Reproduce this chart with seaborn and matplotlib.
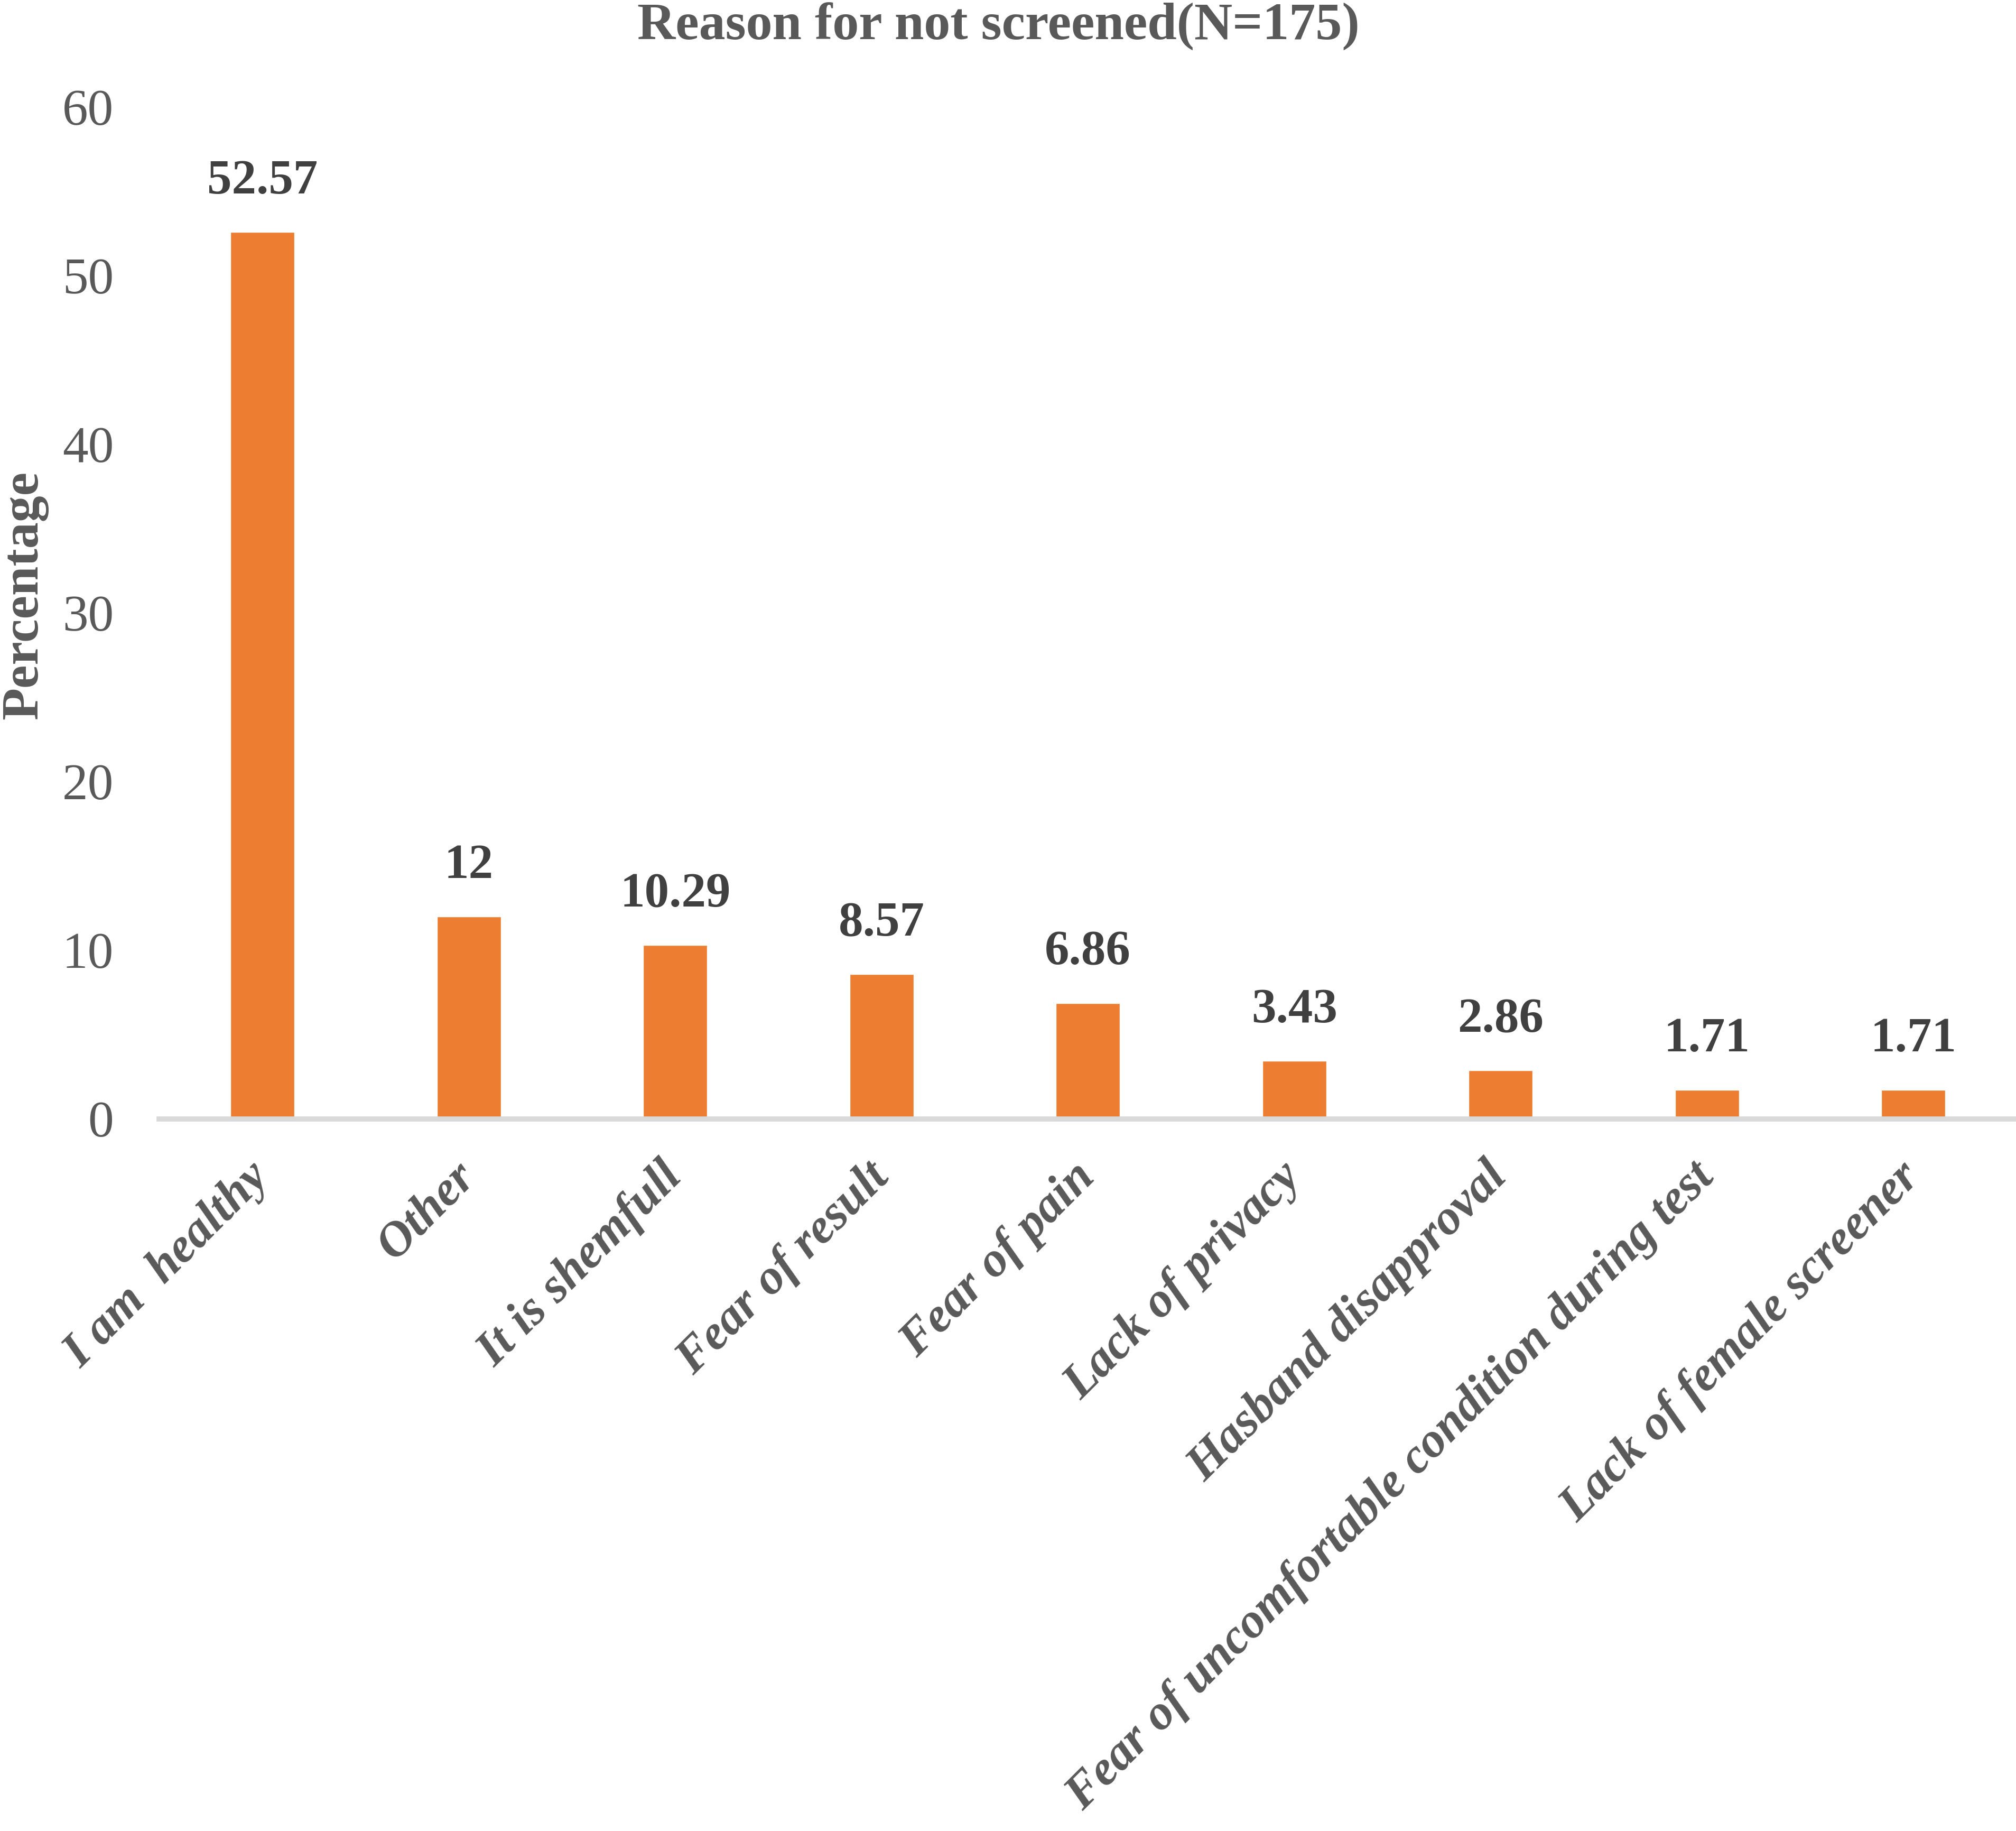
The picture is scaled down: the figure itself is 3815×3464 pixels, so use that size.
import matplotlib
matplotlib.use("Agg")
import matplotlib.pyplot as plt
import seaborn as sns
import pandas as pd

# data
reasons = ["I am  healthy", "Other", "It is shemfull", "Fear of result", "Fear of pain",
           "Lack of privacy", "Hasband disapproval",
           "Fear of uncomfortable condition during test", "Lack of female screener"]
percentages = [52.57, 12, 10.29, 8.57, 6.86, 3.43, 2.86, 1.71, 1.71]
y_ticks = [0, 10, 20, 30, 40, 50, 60]

ORANGE = "#ED7D31"
GRAY = "#595959"
DARK = "#404040"

sns.set_style("white")
plt.rcParams['font.family'] = ['Liberation Serif', 'DejaVu Serif']

df = pd.DataFrame({'reason': reasons, 'pct': percentages})

fig = plt.figure(figsize=(38.16, 34.64), dpi=100)
ax = fig.add_axes([0.079, 0.389, 0.921, 0.5527])

sns.barplot(data=df, x='reason', y='pct', color=ORANGE, width=0.31,
            saturation=1, ax=ax)

ax.set_xlim(-0.5, len(reasons) - 0.5)
ax.set_ylim(0, 60)
ax.set_yticks(y_ticks)
ax.set_xlabel("")
ax.set_ylabel("")

for s in ['top', 'right', 'left']:
    ax.spines[s].set_visible(False)
ax.spines['bottom'].set_color("#D9D9D9")
ax.spines['bottom'].set_linewidth(7)

ax.tick_params(axis='y', length=0, pad=62, labelsize=70, labelcolor=GRAY)
ax.tick_params(axis='x', length=0, pad=70, labelsize=67, labelcolor=GRAY)

for lab in ax.get_xticklabels():
    lab.set_rotation(45)
    lab.set_ha('right')
    lab.set_va('center')
    lab.set_rotation_mode('anchor')
    lab.set_fontweight('bold')
    lab.set_fontstyle('italic')

for i, v in enumerate(percentages):
    ax.annotate(f"{v:g}", (i, v), xytext=(0, 38), textcoords='offset points',
                ha='center', va='bottom', fontsize=67, fontweight='bold',
                color=DARK)

fig.text(0.495, 0.9985, "Reason for not screened(N=175)", ha='center', va='top',
         fontsize=72, fontweight='bold', color=GRAY)
fig.text(0.012, 0.675, "Percentage", ha='center', va='center', rotation=90,
         fontsize=72, fontweight='bold', color=GRAY)

fig.savefig("out.png", dpi=100)
